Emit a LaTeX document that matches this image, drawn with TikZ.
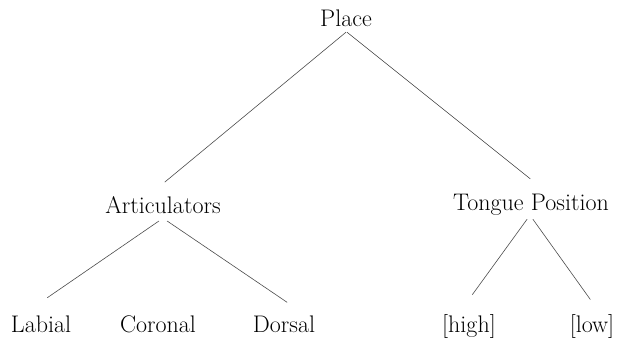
\documentclass[tikz,border=0pt]{standalone}
\usepackage{tikz}
\tikzset{
  feat/.style={inner sep=0pt, text height=16pt, text depth=5pt, font=\fontsize{24}{28}\selectfont},
  branch/.style={draw=black!70, line width=0.6pt},
}

\begin{document}
\begin{tikzpicture}[x=1pt, y=-1pt]
\useasboundingbox (0,0) rectangle (624,342);
% nodes of the tree
\node[feat] (place) at (346,21.5) {Place};
\node[feat] (artic) at (163,207.5) {Articulators};
\node[feat] (tongue) at (531,204.5) {Tongue Position};
\node[feat] (labial) at (41,326.5) {Labial};
\node[feat] (coronal) at (158,326.5) {Coronal};
\node[feat] (dorsal) at (284,326.5) {Dorsal};
\node[feat] (high) at (469,326.5) {[high]};
\node[feat] (low) at (592,326.5) {[low]};
% branches
\draw[branch, shorten >=23pt] (place.south) -- ([xshift=-16pt]artic.north);
\draw[branch, shorten >=24pt] ([xshift=1pt]place.south) -- ([xshift=18pt]tongue.north);
\draw[branch, shorten <=5pt, shorten >=32pt] (artic.south) -- ([xshift=-20pt]labial.north);
\draw[branch, shorten <=5pt, shorten >=24pt] (artic.south) -- ([xshift=23pt]dorsal.north);
\draw[branch, shorten <=5pt, shorten >=26pt] ([xshift=-1pt]tongue.south) -- ([xshift=-12pt]high.north);
\draw[branch, shorten <=5pt, shorten >=20pt] ([xshift=-1pt]tongue.south) -- ([xshift=10pt]low.north);
\end{tikzpicture}
\end{document}
